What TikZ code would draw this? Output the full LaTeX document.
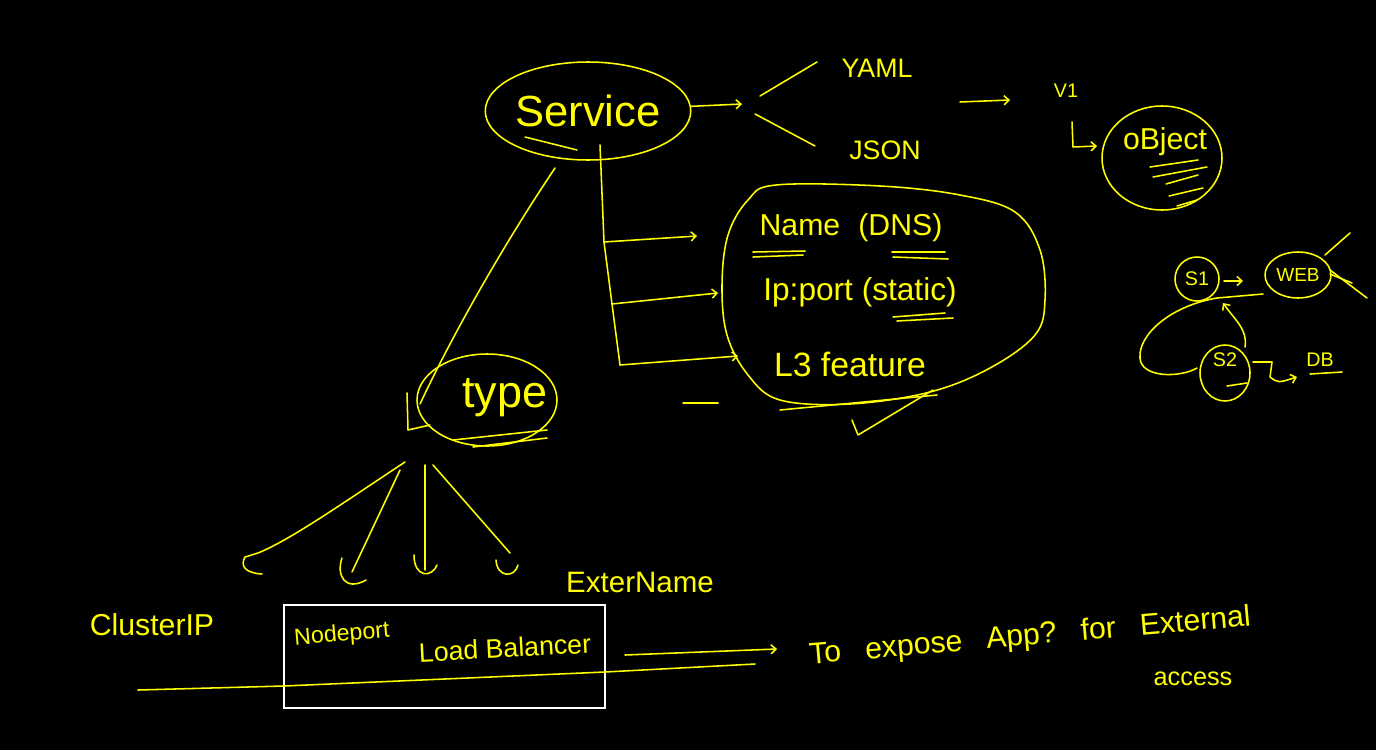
\documentclass[tikz,border=0pt]{standalone}
\usepackage{fontspec}
\setmainfont{Liberation Sans}
\usetikzlibrary{arrows.meta,shapes.geometric}
\definecolor{hy}{RGB}{255,255,0}
\newcommand\fsz[1]{\fontsize{#1}{#1}\selectfont}
\begin{document}
\begin{tikzpicture}[x=0.05cm,y=-0.05cm,
  pen/.style={draw=hy, line width=2.2pt, line cap=round, line join=round},
  arr/.style={pen, -{Straight Barb[length=7pt,width=13pt]}},
  lbl/.style={text=hy, inner sep=0pt},
  ring/.style={pen, ellipse, inner sep=0pt, text=hy}]
\fill[black] (0,0) rectangle (1376,750);
\useasboundingbox (0,0) rectangle (1376,750);

% ---------- Service ----------
\node[ring, minimum width=9.5cm, minimum height=4.9cm, font=\fsz{62pt}] (svc) at (588,111) {Service};
\draw[pen] (525,137) -- (577,150);
\coordinate (a1) at (742,104);
\draw[arr] (svc) -- (a1);
\node[lbl, font=\fsz{38pt}] (yaml) at (877,68) {YAML};
\node[lbl, font=\fsz{38pt}] (json) at (885,150) {JSON};
\coordinate (y1) at (760,96); \coordinate (y2) at (817,62);
\coordinate (j1) at (755,114); \coordinate (j2) at (815,146);
\draw[pen] (y1) -- (y2);
\draw[pen] (j1) -- (j2);
\coordinate (v0) at (960,102); \coordinate (v9) at (1010,100);
\draw[arr] (v0) -- (v9);
\node[lbl, font=\fsz{28pt}] (v1) at (1066,91) {V1};
\coordinate (h0) at (1072,122); \coordinate (h1) at (1073,147); \coordinate (h2) at (1097,146);
\draw[arr] (h0) -- (h1) -- (h2);
\node[ring, minimum width=6cm, minimum height=5.2cm] (obj) at (1162,158) {};
\node[lbl, font=\fsz{43pt}] (objt) at (1165,142) {oBject};
\draw[pen] (1150,167) -- (1198,160);
\draw[pen] (1153,177) -- (1207,167);
\draw[pen] (1166,184) -- (1198,175);
\draw[pen] (1169,196) -- (1203,188);
\draw[pen] (1177,206) -- (1197,200);

% ---------- features ----------
\coordinate (t0) at (600,145); \coordinate (t1) at (604,242);
\coordinate (t2) at (612,304); \coordinate (t3) at (620,365);
\draw[pen] (t0) -- (t1) -- (t2) -- (t3);
\coordinate (b1) at (697,236); \coordinate (b2) at (718,293); \coordinate (b3) at (738,356);
\draw[arr] (t1) -- (b1);
\draw[arr] (t2) -- (b2);
\draw[arr] (t3) -- (b3);
\draw[pen] (683,403) -- (718,403);
\draw[pen] plot[smooth cycle, tension=0.6] coordinates {(776,185) (880,186) (960,195) (1015,212) (1040,250) (1045,300) (1035,335) (990,368) (930,392) (850,404) (780,400) (748,375) (727,335) (722,285) (728,235) (748,200)};
\node[lbl, font=\fsz{43pt}] (name) at (851,228) {Name\hspace{0.6em}(DNS)};
\draw[pen] (753,252) -- (805,251); \draw[pen] (753,257) -- (803,255);
\draw[pen] (892,252) -- (945,252); \draw[pen] (893,257) -- (948,259);
\node[lbl, font=\fsz{45pt}] (ip) at (860,292) {Ip:port (static)};
\draw[pen] (893,317) -- (945,313); \draw[pen] (897,321) -- (953,318);
\node[lbl, font=\fsz{48pt}] (l3) at (850,364) {L3 feature};
\draw[pen] (780,410) -- (937,395);
\draw[pen] (852,420) -- (858,435) -- (933,390);

% ---------- type ----------
\coordinate (d0) at (555,168); \coordinate (d1) at (420,404);
\draw[pen] (d0) .. controls (500,250) and (450,340) .. (d1);
\draw[pen] (407,393) -- (408,430) -- (430,425);
\node[ring, minimum width=7cm, minimum height=4.6cm] (typ) at (487,400) {};
\node[lbl, font=\fsz{64pt}] (typt) at (505,398) {type};
\draw[pen] (453,440) -- (547,430);
\draw[pen] (473,447) -- (547,438);

\coordinate (k1) at (405,462); \coordinate (k1e) at (258,553);
\draw[pen] (k1) .. controls (340,505) and (290,540) .. (k1e) -- (245,557) .. controls (240,566) and (245,573) .. (262,574);
\coordinate (k2) at (400,470); \coordinate (k2e) at (352,572);
\draw[pen] (k2) -- (k2e);
\draw[pen] (342,558) .. controls (336,575) and (345,592) .. (366,580);
\coordinate (k3) at (425,465); \coordinate (k3e) at (425,570);
\draw[pen] (k3) -- (k3e);
\draw[pen] (414,555) .. controls (414,578) and (432,578) .. (437,565);
\coordinate (k4) at (433,465); \coordinate (k4e) at (510,553);
\draw[pen] (k4) -- (k4e);
\draw[pen] (496,560) .. controls (497,578) and (515,578) .. (518,565);

\node[lbl, font=\fsz{43pt}] (cip) at (152,625) {ClusterIP};
\node[lbl, font=\fsz{33pt}, rotate=5] (np) at (342,635) {Nodeport};
\node[lbl, font=\fsz{38pt}, rotate=3] (lb) at (505,648) {Load Balancer};
\node[lbl, font=\fsz{42pt}] (en) at (640,582) {ExterName};
\draw[white, line width=4pt] (284,605) rectangle (605,708);
\coordinate (g0) at (138,690); \coordinate (g1) at (284,686); \coordinate (g2) at (605,672); \coordinate (g3) at (755,664);
\draw[pen] (g0) -- (g1) -- (g2) -- (g3);
\coordinate (e0) at (625,655); \coordinate (e1) at (777,649);
\draw[arr] (e0) -- (e1);
\node[lbl, font=\fsz{43pt}, rotate=5] (exp) at (1030,637) {To\hspace{0.8em}expose\hspace{0.8em}App?\hspace{0.8em}for\hspace{0.8em}External};
\node[lbl, font=\fsz{36pt}] (acc) at (1193,679) {access};

% ---------- right cluster ----------
\node[pen, circle, inner sep=0pt, minimum size=2.2cm, text=hy, font=\fsz{28pt}] (s1) at (1197,279) {S1};
\node[ring, minimum width=3.3cm, minimum height=2.3cm, font=\fsz{27pt}] (web) at (1298,275) {WEB};
\coordinate (w0) at (1224,281); \coordinate (w1) at (1243,281);
\draw[arr] (w0) -- (w1);
\draw[pen] (1325,255) -- (1350,233);
\draw[pen] (1330,270) -- (1367,298);
\draw[pen] (1330,274) -- (1352,283);
\node[ring, minimum width=2.5cm, minimum height=2.8cm] (s2) at (1225,373) {};
\node[lbl, font=\fsz{28pt}] (s2t) at (1225,360) {S2};
\draw[pen] (1227,386) -- (1247,383);
\coordinate (c0) at (1263,294); \coordinate (c1) at (1197,368);
\draw[pen] (c0) -- (1217,298) .. controls (1170,306) and (1138,335) .. (1140,358) .. controls (1141,378) and (1180,378) .. (c1);
\coordinate (u0) at (1245,347); \coordinate (u1) at (1223,303);
\draw[arr] (u0) .. controls (1248,330) and (1235,320) .. (u1);
\node[lbl, font=\fsz{28pt}] (db) at (1320,360) {DB};
\draw[pen] (1310,374) -- (1342,372);
\coordinate (q0) at (1253,362); \coordinate (q1) at (1297,377);
\draw[arr] (q0) -- (1272,362) -- (1270,377) .. controls (1278,383) .. (q1);
\end{tikzpicture}
\end{document}
